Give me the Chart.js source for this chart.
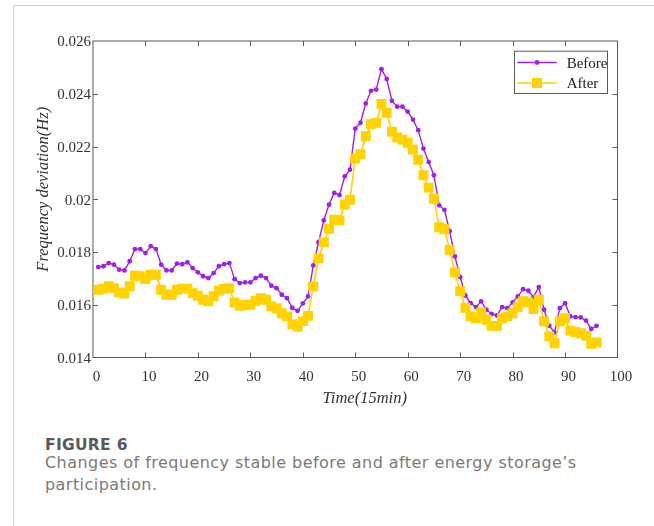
<!DOCTYPE html>
<html>
<head>
<meta charset="utf-8">
<script src="https://cdn.jsdelivr.net/npm/chart.js@4.4.1/dist/chart.umd.min.js"></script>
<style>
  html, body { margin: 0; padding: 0; background: #fff; }
  body { width: 654px; height: 526px; position: relative; overflow: hidden; }
  #frame { position: absolute; left: 12.5px; top: 4.5px; width: 700px; height: 600px;
           border-left: 1.5px solid #d2d2d2; border-top: 1.5px solid #d2d2d2; z-index: 0; }
  #c { position: absolute; left: 0; top: 0; z-index: 1; }
  #figno { position: absolute; left: 45px; top: 437px; font-family: "DejaVu Sans", sans-serif;
           font-weight: bold; font-size: 15.5px; line-height: 16px; color: #595959; letter-spacing: 0.3px; z-index: 2; white-space: nowrap; }
  #cap { position: absolute; left: 45px; top: 451.5px; font-family: "DejaVu Sans", sans-serif;
         font-weight: normal; font-size: 16px; line-height: 22px; color: #7a7a7a; letter-spacing: 0.45px; z-index: 2; white-space: nowrap; }
</style>
</head>
<body>
<div id="frame"></div>
<canvas id="c" width="654" height="420"></canvas>
<div id="figno">FIGURE 6</div>
<div id="cap">Changes of frequency stable before and after energy storage’s<br>participation.</div>
<script>
// ---- data ----
const timeSteps = [1,2,3,4,5,6,7,8,9,10,11,12,13,14,15,16,17,18,19,20,21,22,23,24,25,26,27,28,29,30,31,32,33,34,35,36,37,38,39,40,41,42,43,44,45,46,47,48,49,50,51,52,53,54,55,56,57,58,59,60,61,62,63,64,65,66,67,68,69,70,71,72,73,74,75,76,77,78,79,80,81,82,83,84,85,86,87,88,89,90,91,92,93,94,95,96];

const beforeValues = [
  0.01743,0.01746,0.01758,0.01752,0.01733,0.01730,0.01765,0.01811,0.01811,0.01796,
  0.01822,0.01811,0.01752,0.01730,0.01730,0.01756,0.01754,0.01761,0.01739,0.01723,
  0.01708,0.01701,0.01720,0.01746,0.01754,0.01758,0.01697,0.01682,0.01685,0.01685,
  0.01701,0.01710,0.01701,0.01672,0.01663,0.01638,0.01625,0.01588,0.01577,0.01605,
  0.01632,0.01749,0.01837,0.01920,0.01980,0.02024,0.02016,0.02087,0.02112,0.02268,
  0.02290,0.02363,0.02411,0.02416,0.02493,0.02456,0.02373,0.02351,0.02351,0.02332,
  0.02302,0.02262,0.02192,0.02141,0.02091,0.01977,0.01960,0.01879,0.01783,0.01705,
  0.01635,0.01606,0.01591,0.01613,0.01581,0.01565,0.01560,0.01591,0.01587,0.01609,
  0.01632,0.01659,0.01653,0.01629,0.01667,0.01581,0.01520,0.01495,0.01587,0.01606,
  0.01556,0.01553,0.01552,0.01540,0.01508,0.01520
];

const afterValues = [
  0.01657,0.01661,0.01670,0.01663,0.01647,0.01642,0.01670,0.01710,0.01708,0.01697,
  0.01714,0.01714,0.01657,0.01638,0.01638,0.01657,0.01661,0.01661,0.01644,0.01634,
  0.01619,0.01613,0.01632,0.01653,0.01660,0.01663,0.01609,0.01596,0.01600,0.01600,
  0.01615,0.01625,0.01619,0.01594,0.01587,0.01568,0.01556,0.01526,0.01516,0.01538,
  0.01558,0.01669,0.01776,0.01837,0.01888,0.01922,0.01920,0.01980,0.01998,0.02154,
  0.02171,0.02239,0.02285,0.02290,0.02361,0.02328,0.02256,0.02234,0.02226,0.02214,
  0.02188,0.02150,0.02091,0.02044,0.02002,0.01894,0.01886,0.01808,0.01723,0.01651,
  0.01588,0.01556,0.01549,0.01571,0.01543,0.01520,0.01520,0.01549,0.01556,0.01568,
  0.01591,0.01613,0.01609,0.01584,0.01619,0.01537,0.01480,0.01454,0.01537,0.01549,
  0.01502,0.01496,0.01492,0.01482,0.01452,0.01457
];

const seriesNames = ['Before', 'After'];
const xTickValues = [0,10,20,30,40,50,60,70,80,90,100];
const xTickLabels = ['0','10','20','30','40','50','60','70','80','90','100'];
const yTickValues = [0.014,0.016,0.018,0.020,0.022,0.024,0.026];
const yTickLabels = ['0.014','0.016','0.018','0.02','0.022','0.024','0.026'];
const xTitle = 'Time(15min)';
const yTitle = 'Frequency deviation(Hz)';

// ---- styles ----
const purple = '#A020E6';
const gold = '#FFD200';
const axisColor = '#5a5a5a';
const textColor = '#333333';
const serif = '"Liberation Serif", "Times New Roman", serif';

const toPoints = (vals) => timeSteps.map((t, i) => ({ x: t, y: vals[i] }));

const decorPlugin = {
  id: 'decor',
  beforeDatasetsDraw(chart) {
    const { ctx, chartArea: a, scales } = chart;
    ctx.save();
    ctx.strokeStyle = axisColor;
    ctx.lineWidth = 1;
    ctx.strokeRect(a.left, a.top, a.right - a.left, a.bottom - a.top);
    const tl = 5;
    ctx.beginPath();
    xTickValues.forEach(v => {
      const px = Math.round(scales.x.getPixelForValue(v)) + 0.5;
      if (v === xTickValues[0] || v === xTickValues[xTickValues.length - 1]) return;
      ctx.moveTo(px, a.bottom); ctx.lineTo(px, a.bottom - tl);
      ctx.moveTo(px, a.top); ctx.lineTo(px, a.top + tl);
    });
    yTickValues.forEach(v => {
      const py = Math.round(scales.y.getPixelForValue(v)) + 0.5;
      if (v === yTickValues[0] || v === yTickValues[yTickValues.length - 1]) return;
      ctx.moveTo(a.left, py); ctx.lineTo(a.left + tl, py);
      ctx.moveTo(a.right, py); ctx.lineTo(a.right - tl, py);
    });
    ctx.stroke();
    ctx.restore();
  },
  afterDatasetsDraw(chart) {
    const { ctx, chartArea: a } = chart;
    ctx.save();
    // axis titles
    ctx.fillStyle = textColor;
    ctx.textAlign = 'center';
    ctx.textBaseline = 'middle';
    ctx.font = 'italic 16.5px ' + serif;
    ctx.fillText(xTitle, (a.left + a.right) / 2 + 9.5, a.bottom + 41.5);
    ctx.save();
    ctx.translate(a.left - 49.5, (a.top + a.bottom) / 2 - 10);
    ctx.rotate(-Math.PI / 2);
    ctx.font = 'italic 16.5px ' + serif;
    ctx.fillText(yTitle, 0, 0);
    ctx.restore();

    // legend inside the plot
    const bx = a.right - 103.5, by = a.top + 9.7, bw = 93, bh = 42.3;
    ctx.fillStyle = '#ffffff';
    ctx.fillRect(bx, by, bw, bh);
    ctx.strokeStyle = axisColor;
    ctx.lineWidth = 1;
    ctx.strokeRect(bx + 0.5, by + 0.5, bw, bh);
    const rows = [
      { name: seriesNames[0], y: a.top + 21.5, color: purple, marker: 'dot' },
      { name: seriesNames[1], y: a.top + 42, color: gold, marker: 'sq' }
    ];
    rows.forEach(r => {
      ctx.strokeStyle = r.color;
      ctx.lineWidth = 1.5;
      ctx.beginPath();
      ctx.moveTo(a.right - 100.2, r.y);
      ctx.lineTo(a.right - 60.8, r.y);
      ctx.stroke();
      ctx.fillStyle = r.color;
      const mx = a.right - 80.5;
      if (r.marker === 'dot') {
        ctx.beginPath(); ctx.arc(mx, r.y, 2.4, 0, Math.PI * 2); ctx.fill();
      } else {
        ctx.fillRect(mx - 5, r.y - 5, 10, 10);
      }
      ctx.fillStyle = '#222';
      ctx.textAlign = 'left';
      ctx.textBaseline = 'middle';
      ctx.font = '15px ' + serif;
      ctx.fillText(r.name, a.right - 50.8, r.y + 1.5);
    });
    ctx.restore();
  }
};

new Chart(document.getElementById('c'), {
  type: 'line',
  data: {
    datasets: [
      {
        label: seriesNames[0],
        data: toPoints(beforeValues),
        borderColor: purple,
        backgroundColor: purple,
        borderWidth: 1.4,
        pointStyle: 'circle',
        pointRadius: 2.4,
        pointBorderWidth: 0,
        pointBackgroundColor: purple,
        tension: 0,
        fill: false,
        order: 1
      },
      {
        label: seriesNames[1],
        data: toPoints(afterValues),
        borderColor: gold,
        backgroundColor: gold,
        borderWidth: 1.6,
        pointStyle: 'rect',
        pointRadius: 7,
        pointBorderWidth: 0,
        pointBackgroundColor: gold,
        tension: 0,
        fill: false,
        order: 0
      }
    ]
  },
  options: {
    responsive: false,
    animation: false,
    events: [],
    layout: { padding: { top: 41, right: 36.5, left: 0, bottom: 0 } },
    plugins: { legend: { display: false }, tooltip: { enabled: false }, title: { display: false } },
    scales: {
      x: {
        type: 'linear',
        min: 0, max: 100,
        afterBuildTicks: (s) => { s.ticks = xTickValues.map(v => ({ value: v })); },
        afterFit: (s) => { s.height = 62.5; },
        grid: { display: false, drawTicks: false },
        border: { display: false },
        ticks: {
          autoSkip: false, maxRotation: 0, minRotation: 0,
          padding: 11, labelOffset: 3.5,
          color: textColor,
          font: { family: serif, size: 15 },
          callback: (v, i) => xTickLabels[i]
        }
      },
      y: {
        type: 'linear',
        min: 0.014, max: 0.026,
        afterBuildTicks: (s) => { s.ticks = yTickValues.map(v => ({ value: v })); },
        afterFit: (s) => { s.width = 93; },
        grid: { display: false, drawTicks: false },
        border: { display: false },
        ticks: {
          autoSkip: false,
          padding: 2, labelOffset: 1.5,
          color: textColor,
          font: { family: serif, size: 15 },
          callback: (v, i) => yTickLabels[i]
        }
      }
    }
  },
  plugins: [decorPlugin]
});
</script>
</body>
</html>
